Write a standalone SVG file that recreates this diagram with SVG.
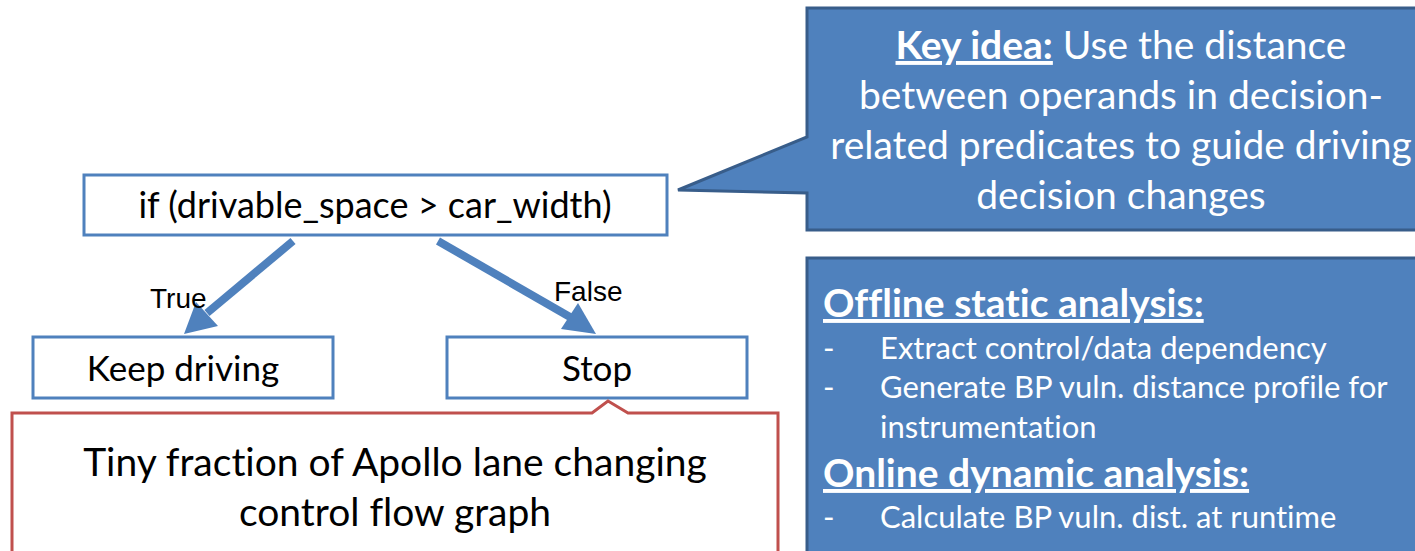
<svg xmlns="http://www.w3.org/2000/svg" width="1415" height="551" viewBox="0 0 1415 551">
  <style>
    .node { fill: #ffffff; stroke: #4f81bd; stroke-width: 3; }
    .note { fill: #ffffff; stroke: #c0504d; stroke-width: 3; }
    .panel { fill: #4f81bd; stroke: #385d8a; stroke-width: 3; }
    .dark { font-family: Lato, "Liberation Sans", sans-serif; fill: #000000; font-variant-ligatures: none; }
    .light { font-family: Lato, "Liberation Sans", sans-serif; fill: #ffffff; font-variant-ligatures: none; }
    .lbl { font-family: "Liberation Sans", Arial, sans-serif; font-size: 28px; fill: #000000; }
    .edge { stroke: #4f81bd; stroke-width: 8; fill: none; }
    .head { fill: #4f81bd; }
  </style>

  <!-- key idea callout pointing at the predicate -->
  <g id="key-idea">
    <path class="panel" d="M807,8 H1420 V230 H807 V193 L678,190 L807,137 Z"/>
    <g class="light" font-size="39" text-anchor="middle">
      <text x="1121" y="59"><tspan font-weight="bold" text-decoration="underline">Key idea:</tspan> Use the distance</text>
      <text x="1121" y="109">between operands in decision-</text>
      <text x="1121" y="159">related predicates to guide driving</text>
      <text x="1121" y="209">decision changes</text>
    </g>
  </g>

  <!-- analysis summary panel -->
  <g id="analysis">
    <rect class="panel" x="807" y="258" width="620" height="310"/>
    <g class="light" font-size="31">
      <text x="823" y="317" font-size="39" font-weight="bold" text-decoration="underline">Offline static analysis:</text>
      <text x="823" y="359">-</text>
      <text x="880" y="359">Extract control/data dependency</text>
      <text x="823" y="398">-</text>
      <text x="880" y="398">Generate BP vuln. distance profile for</text>
      <text x="880" y="438">instrumentation</text>
      <text x="823" y="487" font-size="39" font-weight="bold" text-decoration="underline">Online dynamic analysis:</text>
      <text x="823" y="528">-</text>
      <text x="880" y="528">Calculate BP vuln. dist. at runtime</text>
    </g>
  </g>

  <!-- control flow nodes -->
  <g id="predicate">
    <rect class="node" x="84" y="175" width="583" height="60"/>
    <text class="dark" x="375" y="218" font-size="36" text-anchor="middle">if (drivable_space &gt; car_width)</text>
  </g>
  <g id="keep-driving">
    <rect class="node" x="33" y="337" width="300" height="61"/>
    <text class="dark" x="183" y="381" font-size="35" text-anchor="middle">Keep driving</text>
  </g>
  <g id="stop">
    <rect class="node" x="447" y="337" width="300" height="61"/>
    <text class="dark" x="597" y="381" font-size="35" text-anchor="middle">Stop</text>
  </g>

  <!-- branch edges -->
  <g id="connectors">
    <line class="edge" x1="293" y1="241" x2="207" y2="313"/>
    <polygon class="head" points="184,334 196,302 218,326"/>
    <line class="edge" x1="438" y1="241" x2="570" y2="317"/>
    <polygon class="head" points="596,334 561,329 578,303"/>
    <text class="lbl" x="150" y="308">True</text>
    <text class="lbl" x="554" y="301">False</text>
  </g>

  <!-- caption note attached to the Stop node -->
  <g id="caption">
    <path class="note" d="M12,413 H592 L608,401 L628,413 H778 V570 H12 Z"/>
    <g class="dark" font-size="39" text-anchor="middle">
      <text x="395" y="476">Tiny fraction of Apollo lane changing</text>
      <text x="395" y="526">control flow graph</text>
    </g>
  </g>
</svg>
